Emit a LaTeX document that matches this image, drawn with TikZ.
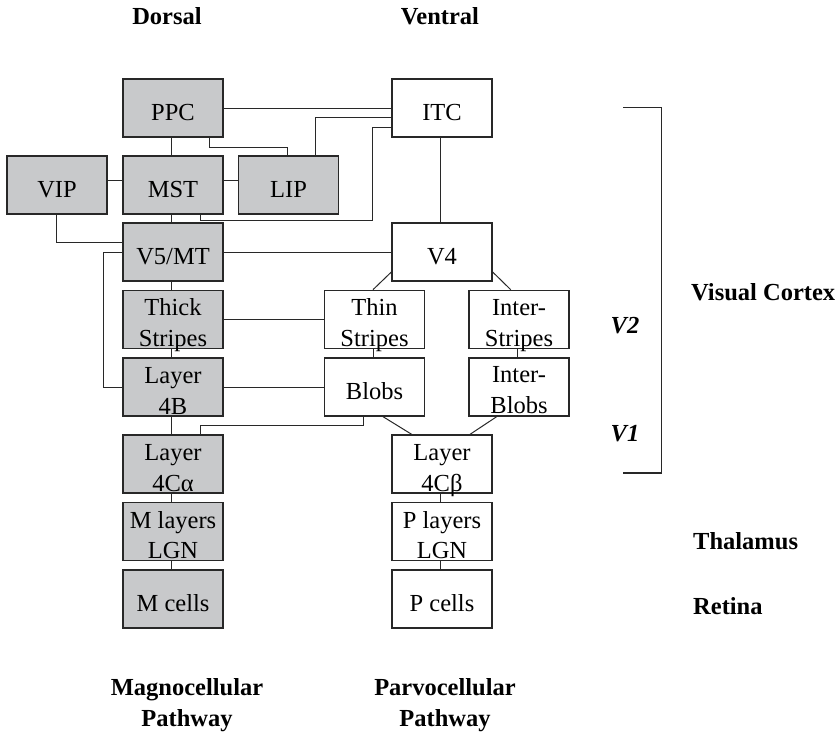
\documentclass[tikz,border=0pt]{standalone}
\usepackage{fontspec}
\setmainfont{Liberation Serif}
\usetikzlibrary{calc}
\definecolor{boxgray}{RGB}{200,201,203}
\definecolor{linecol}{RGB}{40,40,40}
\newcommand\twoline[2]{\begin{tabular}[b]{@{}c@{}}#1\\#2\end{tabular}}
\begin{document}
\begin{tikzpicture}[x=1pt,y=-1pt,
  box/.style={draw=linecol, line width=1.3pt, minimum width=100pt, minimum height=58pt,
    inner sep=0pt, font=\fontsize{24.5}{30.5}\selectfont, text height=24pt, text depth=0pt},
  gbox/.style={box, fill=boxgray},
  wbox/.style={box, fill=white},
  two/.style={text height=54pt, text depth=0pt},
  conn/.style={draw=linecol, line width=1pt},
  head/.style={font=\fontsize{24.5}{30.5}\selectfont\bfseries, inner sep=0pt, anchor=base},
]
\useasboundingbox (0,0) rectangle (837,731);

% boxes
\node[gbox] (ppc) at (173,108) {PPC};
\node[wbox] (itc) at (442,108) {ITC};
\node[gbox] (vip) at (57,185) {VIP};
\node[gbox] (mst) at (173,185) {MST};
\node[gbox] (lip) at (288.5,185) {LIP};
\node[gbox] (v5) at (173,252) {V5/MT};
\node[wbox] (v4) at (442,252) {V4};
\node[gbox,two] (thick) at (173,319.3) {\twoline{Thick}{Stripes}};
\node[wbox,two] (thin) at (374.5,319.3) {\twoline{Thin}{Stripes}};
\node[wbox,two] (inters) at (519,319.3) {\twoline{Inter-}{Stripes}};
\node[gbox,two] (l4b) at (173,387) {\twoline{Layer}{4B}};
\node[wbox] (blobs) at (374.5,387) {Blobs};
\node[wbox,two,text height=52pt] (interb) at (519,387) {\twoline{Inter-}{Blobs}};
\node[gbox,two] (l4ca) at (173,464) {\twoline{Layer}{4Cα}};
\node[wbox,two] (l4cb) at (442,464) {\twoline{Layer}{4Cβ}};
\node[gbox,two] (mlgn) at (173,531.7) {\twoline{M layers}{LGN}};
\node[wbox,two] (plgn) at (442,531.7) {\twoline{P layers}{LGN}};
\node[gbox] (mcells) at (173,599) {M cells};
\node[wbox] (pcells) at (442,599) {P cells};

% vertical connectors, magnocellular column
\foreach \a/\b in {ppc/mst, mst/v5, v5/thick, thick/l4b, l4b/l4ca, l4ca/mlgn, mlgn/mcells}
  \draw[conn] ($(\a.south)+(-2,0)$) -- ($(\b.north)+(-2,0)$);
% vertical connectors, parvocellular column
\foreach \a/\b in {itc/v4, l4cb/plgn, plgn/pcells}
  \draw[conn] ($(\a.south)+(-1.3,0)$) -- ($(\b.north)+(-1.3,0)$);
\draw[conn] ($(thin.south)+(-1.5,0)$) -- ($(thin.south |- blobs.north)+(-1.5,0)$);
\draw[conn] ($(inters.south)+(-1.3,0)$) -- ($(inters.south |- interb.north)+(-1.3,0)$);

% horizontal connectors
\draw[conn] ($(vip.east)+(0,-5)$) -- ($(mst.west)+(0,-5)$);
\draw[conn] ($(mst.east)+(0,-5)$) -- ($(lip.west)+(0,-5)$);
\draw[conn] (ppc.east) -- (itc.west);
\draw[conn] (v5.east) -- (v4.west);
\draw[conn] (thick.east) -- (thin.west);
\draw[conn] (l4b.east) -- (blobs.west);

% elbow connectors
\draw[conn] ($(lip.north)+(26.5,0)$) |- ($(itc.west)+(0,9)$);
\draw[conn] ($(ppc.south)+(36,0)$) -- ++(0,9.7) -| ($(lip.north)+(-1.5,0)$);
\draw[conn] ($(itc.west)+(0,19.3)$) -- ++(-19,0) |- ($(mst.south)+(27,6)$) -- ($(mst.south)+(27,0)$);
\draw[conn] ($(vip.south)+(-1,0)$) |- ($(v5.west)+(0,-9.3)$);
\draw[conn] (v5.west) -- ++(-19,0) |- (l4b.west);
\draw[conn] ($(blobs.south)+(-11.5,0)$) -- ++(0,9) -| ($(l4ca.north)+(27,0)$);

% diagonal connectors
\draw[conn] ($(v4.west)+(0,20)$) -- ($(thin.north)+(-1.5,0)$);
\draw[conn] ($(v4.east)+(0,20)$) -- ($(inters.north)+(-8.3,0)$);
\draw[conn] ($(blobs.south)+(8.5,0)$) -- ($(l4cb.north)+(-30.3,0)$);
\draw[conn] ($(interb.south)+(-22.3,0)$) -- ($(l4cb.north)+(28,0)$);

% bracket
\draw[conn, line width=1.2pt] (623,107.7) -- (661.7,107.7) -- (661.7,473) -- (623,473);

% labels
\node[head] (dorsal) at (167,24) {Dorsal};
\node[head] (ventral) at (440,24) {Ventral};
\node[head, anchor=base west] (vc) at (691,300) {Visual Cortex};
\node[head] (v2) at (625,333) {\itshape V2};
\node[head] (v1) at (625,441) {\itshape V1};
\node[head, anchor=base west] (thal) at (693,549) {Thalamus};
\node[head, anchor=base west] (ret) at (693,614) {Retina};
\node[head] (magno) at (187,726) {\twoline{Magnocellular}{Pathway}};
\node[head] (parvo) at (445,726) {\twoline{Parvocellular}{Pathway}};
\end{tikzpicture}
\end{document}
